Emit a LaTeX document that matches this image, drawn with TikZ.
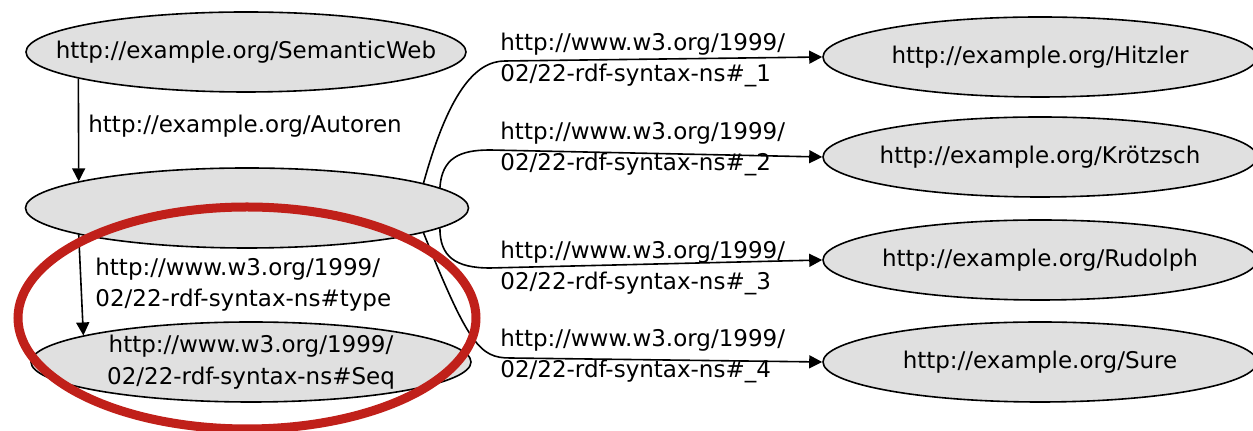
\documentclass[tikz,border=0pt]{standalone}
\usepackage{fontspec}
\setmainfont{DejaVu Sans}
\usetikzlibrary{arrows.meta,shapes.geometric}
\definecolor{nodegray}{RGB}{224,224,224}
\definecolor{markred}{RGB}{192,32,26}
\begin{document}
\begin{tikzpicture}[x=0.5pt,y=-0.5pt,
  res/.style={ellipse, draw=black, line width=0.8pt, fill=nodegray,
    inner xsep=-80pt, inner ysep=-40pt,
    minimum width=#1, minimum height=40pt, align=center,
    font=\fontsize{11.5}{16}\selectfont},
  res/.default=220pt,
  elabel/.style={anchor=west, align=left, inner sep=0pt,
    font=\fontsize{11.5}{15.5}\selectfont},
  arr/.style={-{Triangle[length=6.5pt,width=6.5pt]}, line width=0.8pt},
  hilite/.style={ellipse, draw=markred, line width=4.5pt, inner sep=0pt}
]
\useasboundingbox (0,0) rectangle (1253,431);

% resource nodes
\node[res=220pt] (sw) at (246,52) {http://example.org/SemanticWeb};
\node[res=221.5pt] (bn) at (247,208) {};
\node[res=220pt] (seq) at (251,362) {http://www.w3.org/1999/\\02/22-rdf-syntax-ns\#Seq};
\node[res=217pt] (hz) at (1040,57) {http://example.org/Hitzler};
\node[res=217pt] (kr) at (1040,157) {http://example.org/Krötzsch};
\node[res=217pt] (ru) at (1040,260) {http://example.org/Rudolph};
\node[res=217pt] (su) at (1040,362) {http://example.org/Sure};

% edge labels
\node[elabel] (la) at (88,126) {http://example.org/Autoren};
\node[elabel] (lt) at (95,285) {http://www.w3.org/1999/\\02/22-rdf-syntax-ns\#type};
\node[elabel] (l1) at (500,60) {http://www.w3.org/1999/\\02/22-rdf-syntax-ns\#\_1};
\node[elabel] (l2) at (500,149) {http://www.w3.org/1999/\\02/22-rdf-syntax-ns\#\_2};
\node[elabel] (l3) at (500,268) {http://www.w3.org/1999/\\02/22-rdf-syntax-ns\#\_3};
\node[elabel] (l4) at (500,356) {http://www.w3.org/1999/\\02/22-rdf-syntax-ns\#\_4};

% edges
\draw[arr] (sw.189) -- (bn.171);
\draw[arr] (bn.189) -- (seq.171);
\draw[arr] (bn.8) .. controls +(25,-90) and +(-30,0) .. (505,61) -- (hz.west);
\draw[arr] (bn.6) .. controls +(2,-30) and +(-30,0) .. (490,150) -- (kr.west);
\draw[arr] (bn.-6) .. controls +(0,28) and +(-35,0) .. (490,268) -- (ru.west);
\draw[arr] (bn.-8) .. controls +(45,112) and +(-30,0) .. (510,358) -- (su.west);

% highlight
\node[hilite, minimum width=229pt, minimum height=111pt] (hl) at (247,318) {};
\end{tikzpicture}
\end{document}
